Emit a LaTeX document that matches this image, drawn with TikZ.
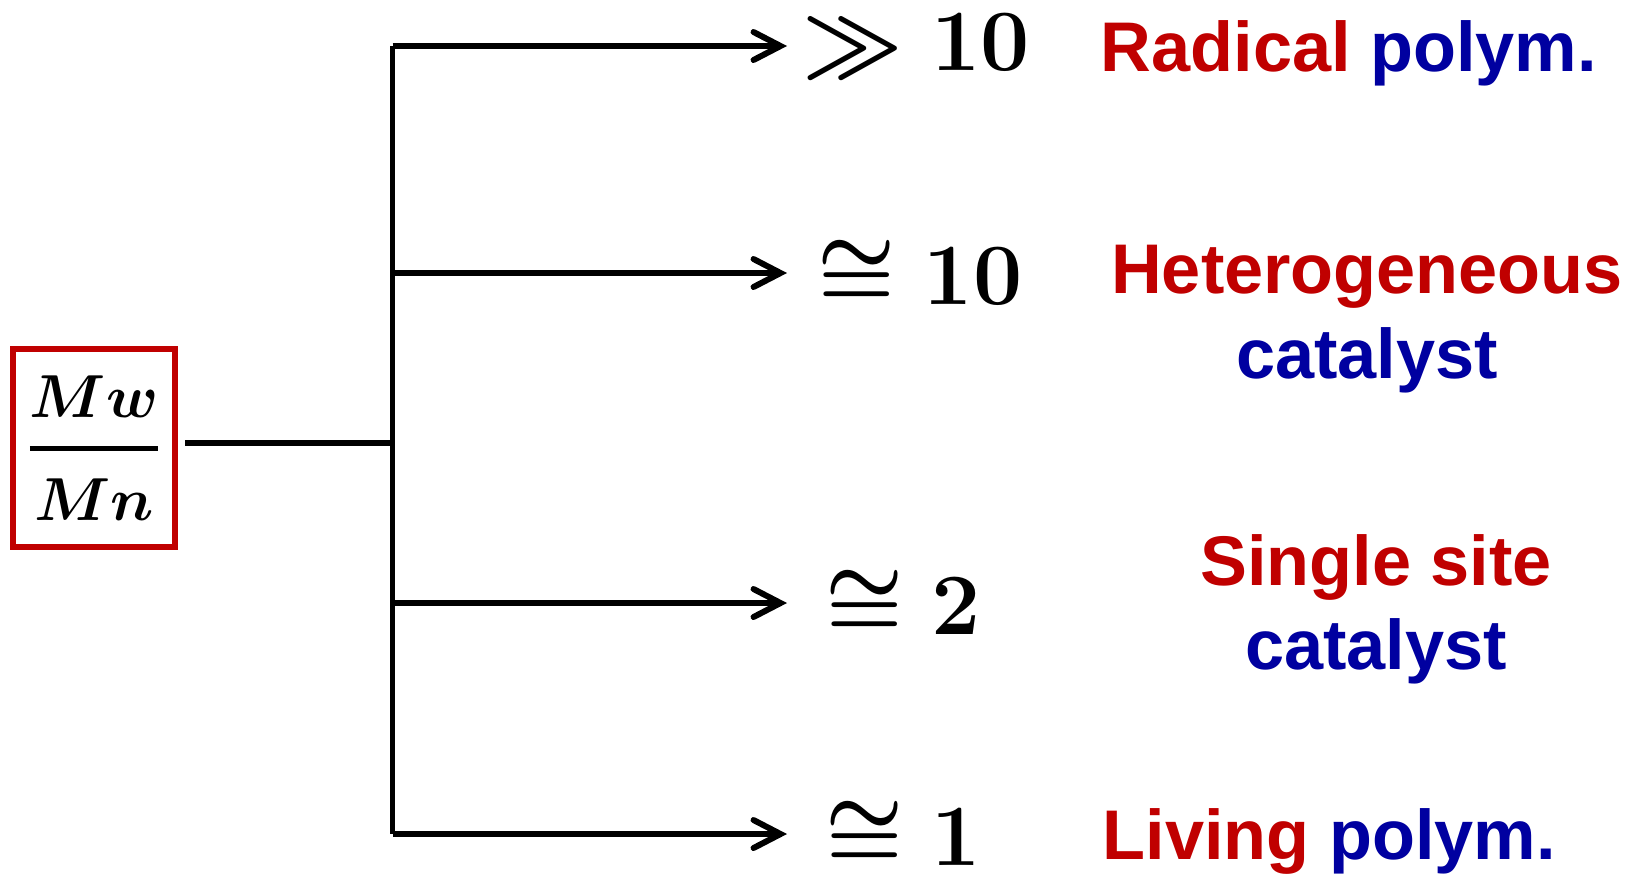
\documentclass[tikz,border=0pt]{standalone}
\usepackage{amsmath,amssymb}
\usepackage{bm}
\usepackage{fontspec}
\setmainfont{Liberation Sans}
\usetikzlibrary{positioning,arrows.meta}
\definecolor{darkred}{RGB}{192,0,0}
\definecolor{navy}{RGB}{0,0,160}

\begin{document}
\begin{tikzpicture}[
    line/.style={line width=1.7pt},
    branch/.style={line width=1.7pt,-{Straight Barb[length=2.7mm,width=2.8mm,line cap=round]}},
    ratio/.style={draw=darkred,line width=1.7pt,minimum width=16.2mm,minimum height=19.8mm,inner sep=0pt,font=\fontsize{18}{22}\selectfont},
    val/.style={inner sep=0pt,font=\fontsize{26}{30}\selectfont\boldmath},
    lab/.style={inner sep=0pt,align=center,font=\fontsize{20}{24}\selectfont\bfseries}
    ]
\useasboundingbox (0,0) rectangle (16.38,-8.74);

% Ratio box
\node[ratio] (R) at (0.94,-4.48)
    {$\genfrac{}{}{1.4pt}{0}{\bm{Mw}\rule[-4pt]{0pt}{0pt}}{\rule{0pt}{15.6pt}\bm{Mn}}$};

% Trunk and branch points
\coordinate (J) at (3.925,-4.43);
\coordinate (J1) at (3.925,-0.46);
\coordinate (J2) at (3.925,-2.73);
\coordinate (J3) at (3.925,-6.03);
\coordinate (J4) at (3.925,-8.34);
\draw[line,shorten <=2pt] (R.east |- J) -- (J);
\draw[line] (J1) -- (J4);

% Arrow ends
\coordinate (E1) at (7.87,-0.46);
\coordinate (E2) at (7.87,-2.73);
\coordinate (E3) at (7.87,-6.03);
\coordinate (E4) at (7.87,-8.34);
\draw[branch] (J1) -- (E1);
\draw[branch] (J2) -- (E2);
\draw[branch] (J3) -- (E3);
\draw[branch] (J4) -- (E4);

% Values
\node[val,right=0.15 of E1] (V1) {$\gg 10$};
\node[val,right=0.30 of E2] (V2) {$\cong 10$};
\node[val,right=0.38 of E3] (V3) {$\cong 2$};
\node[val,right=0.38 of E4] (V4) {$\cong 1$};

% Labels
\node[lab,anchor=base west] (L1) at (11.00,-0.71) {\textcolor{darkred}{Radical} \textcolor{navy}{polym.}};
\node[lab] (L2) at (13.67,-3.19) {\textcolor{darkred}{Heterogeneous}\\\textcolor{navy}{catalyst}};
\node[lab] (L3) at (13.76,-6.09) {\textcolor{darkred}{Single site}\\\textcolor{navy}{catalyst}};
\node[lab,anchor=base west] (L4) at (11.02,-8.59) {\textcolor{darkred}{Living} \textcolor{navy}{polym.}};

\end{tikzpicture}
\end{document}
